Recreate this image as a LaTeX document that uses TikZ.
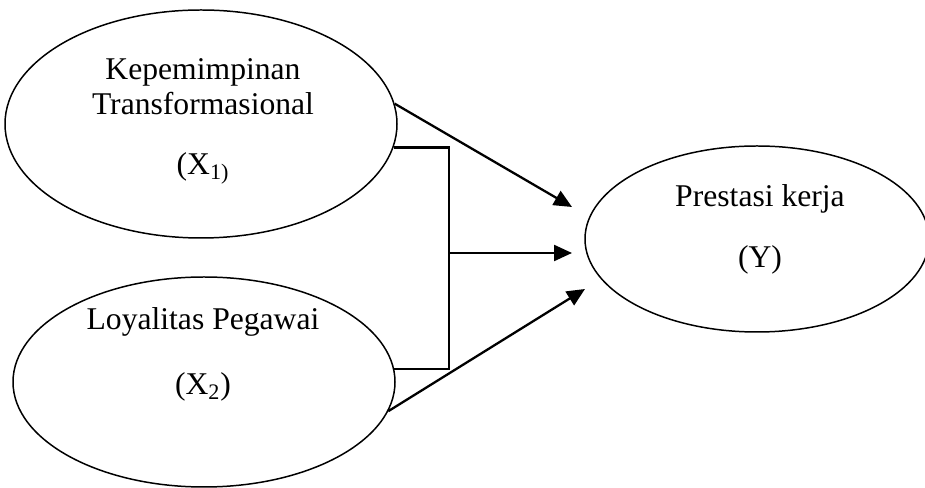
\documentclass[tikz,border=0pt]{standalone}
\usepackage{fontspec}
\setmainfont{Liberation Serif}
\usetikzlibrary{shapes.geometric, arrows.meta, positioning}
\tikzset{
  construct/.style={ellipse, draw=black, line width=0.85pt, inner sep=0pt},
  vartext/.style={align=center, anchor=north, inner sep=0pt,
    font=\fontsize{18pt}{19.9pt}\selectfont},
  arrow/.style={-{Triangle[length=0.36cm, width=0.32cm]}, line width=1.3pt},
  line/.style={line width=1.3pt}
}

\begin{document}
\begin{tikzpicture}
  \useasboundingbox (0,0) rectangle (18.5,9.76);

  % Variables (ellipses)
  \node[construct, minimum width=7.84cm, minimum height=4.56cm] (x1) at (4.02,7.28) {};
  \node[construct, minimum width=7.64cm, minimum height=4.20cm] (x2) at (4.08,2.12) {};
  \node[construct, minimum width=6.88cm, minimum height=3.72cm] (y) at (15.14,4.98) {};

  % Variable names
  \node[vartext] (x1txt) at (4.06,8.59) {Kepemimpinan\\Transformasional\\[0.50cm](X\textsubscript{1)}};
  \node[vartext] (x2txt) at (4.06,3.61) {Loyalitas Pegawai\\[0.60cm](X\textsubscript{2})};
  \node[vartext] (ytxt) at (15.20,6.07) {Prestasi kerja\\[0.52cm](Y)};

  % Junction and arrow tips
  \coordinate (jn) at (8.98,4.70);
  \coordinate (t1) at (11.44,5.62);
  \coordinate (t2) at (11.44,4.70);
  \coordinate (t3) at (11.70,3.98);

  % Partial effects
  \draw[arrow] (x1.6) -- (t1);
  \draw[arrow] (x2.-9) -- (t3);

  % Joint effect
  \draw[line] (x1.-7) -| (jn) |- (x2.4.5);
  \draw[arrow] (jn) -- (t2);
\end{tikzpicture}
\end{document}
